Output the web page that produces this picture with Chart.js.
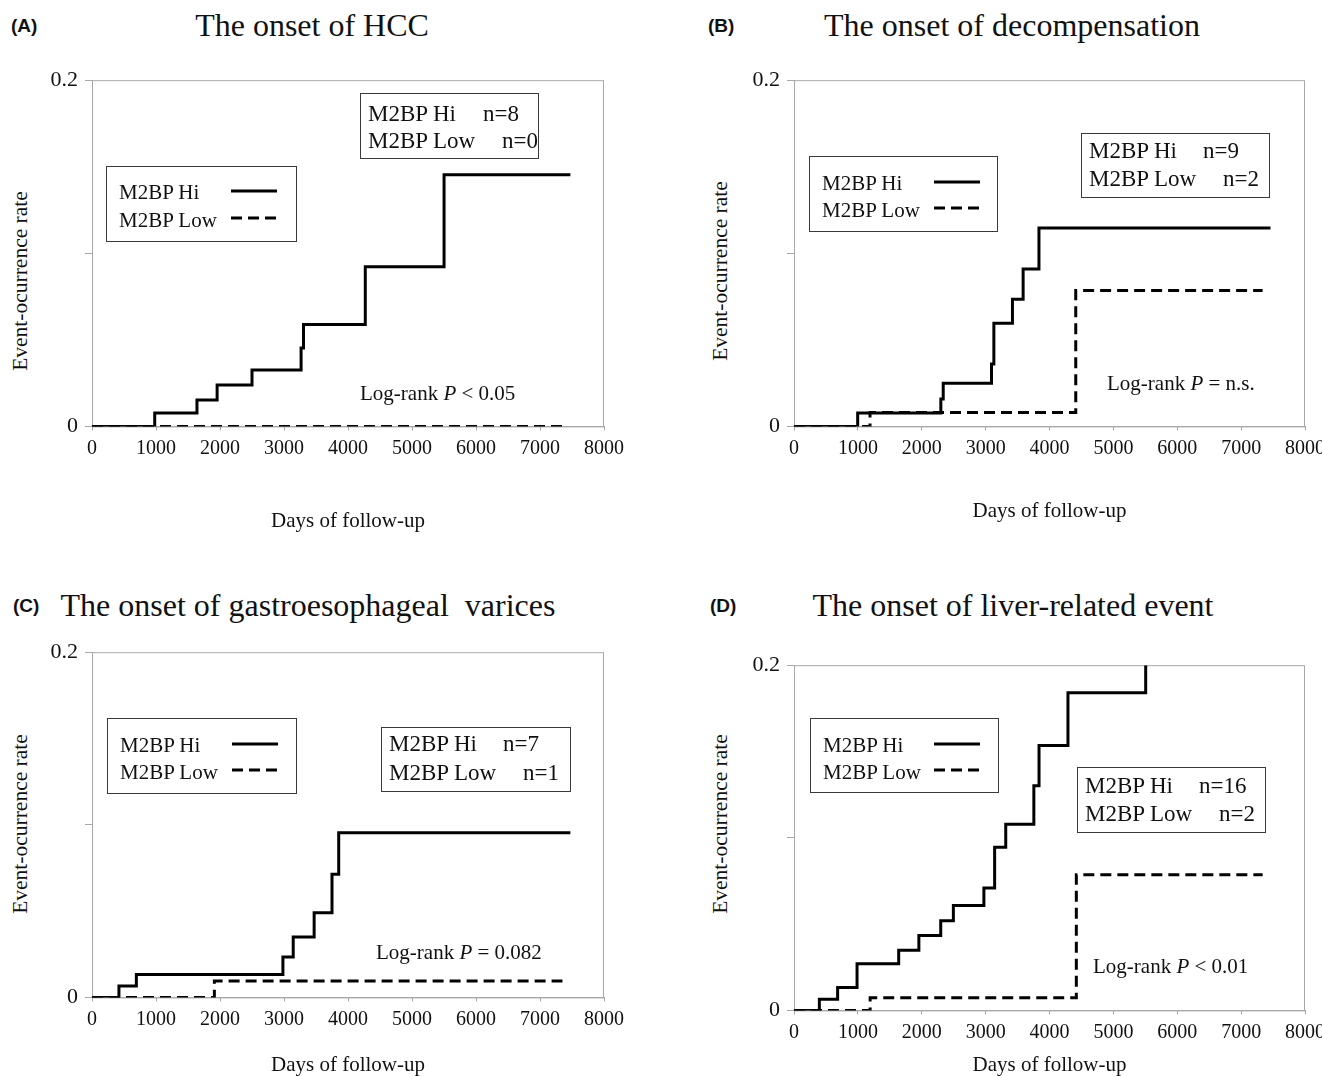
<!DOCTYPE html>
<html lang="en">
<head>
<meta charset="utf-8">
<title>M2BP event-occurrence curves</title>
<script src="https://cdn.jsdelivr.net/npm/chart.js@4.4.1/dist/chart.umd.min.js"></script>
<style>
  html, body { margin: 0; padding: 0; background: #fff; overflow: hidden; }
  body { width: 1322px; height: 1076px; position: relative; font-family: "Liberation Serif", "Times New Roman", serif; color: #111; }
  canvas { position: absolute; }
  .txt { position: absolute; white-space: pre; line-height: 1; transform: translateY(-50%); }
  .mid { transform: translate(-50%, -50%); }
  .tag { font-family: "Liberation Sans", Arial, sans-serif; font-weight: bold; font-size: 19px; }
  .ylab { position: absolute; white-space: nowrap; line-height: 1; font-size: 21.5px; transform: translate(-50%, -50%) rotate(-90deg); }
  .box { position: absolute; border: 1.5px solid #3a3a3a; box-sizing: border-box; }
  svg.key { position: absolute; overflow: visible; }
</style>
</head>
<body>
<script>
// --- DATOS (días de seguimiento / tasa acumulada de eventos) ---
const xTicks = [0, 1000, 2000, 3000, 4000, 5000, 6000, 7000, 8000];
const yTickLabels = ['0', '0.2'];

// (A) HCC
const daysHiA = [0, 980, 1640, 1955, 2500, 3267, 3305, 4270, 5501, 7475];
const rateHiA = [0, 0.0077, 0.0152, 0.0239, 0.0326, 0.0453, 0.0588, 0.0922, 0.1454, 0.1454];
const daysLowA = [0, 7350];
const rateLowA = [0, 0];

// (B) descompensación
const daysHiB = [0, 997, 2299, 2336, 3092, 3129, 3420, 3587, 3835, 7460];
const rateHiB = [0, 0.0077, 0.0158, 0.0249, 0.0361, 0.0596, 0.0735, 0.0910, 0.1146, 0.1146];
const daysLowB = [0, 1190, 4411, 7336];
const rateLowB = [0, 0.0081, 0.0785, 0.0785];

// (C) várices gastroesofágicas
const daysHiC = [0, 421, 693, 2983, 3144, 3471, 3750, 3855, 7475];
const rateHiC = [0, 0.0066, 0.0133, 0.0234, 0.0350, 0.0491, 0.0714, 0.0954, 0.0954];
const daysLowC = [0, 1912, 7351];
const rateLowC = [0, 0.0095, 0.0095];

// (D) evento hepático
const daysHiD = [0, 397, 683, 987, 1639, 1955, 2297, 2495, 2973, 3141, 3315, 3755, 3836, 4289, 5506];
const rateHiD = [0, 0.0064, 0.0132, 0.0271, 0.0348, 0.0434, 0.0519, 0.0608, 0.0709, 0.0945, 0.1078, 0.1301, 0.1535, 0.1841, 0.2];
const daysLowD = [0, 1192, 4420, 7337];
const rateLowD = [0, 0.0074, 0.0786, 0.0786];

const panelTags = ['(A)', '(B)', '(C)', '(D)'];
const panelTitles = ['The onset of HCC', 'The onset of decompensation', 'The onset of gastroesophageal  varices', 'The onset of liver-related event'];
const countsHi = ['n=8', 'n=9', 'n=7', 'n=16'];
const countsLow = ['n=0', 'n=2', 'n=1', 'n=2'];
const logRankTexts = ['Log-rank <i>P</i> &lt; 0.05', 'Log-rank <i>P</i> = n.s.', 'Log-rank <i>P</i> = 0.082', 'Log-rank <i>P</i> &lt; 0.01'];

// --- POSICIONES DE CADA PANEL ---
const panels = [
    { hi: [daysHiA, rateHiA], low: [daysLowA, rateLowA],
      area: { left: 92, top: 80, right: 604, bottom: 426 }, xTitleY: 521,
      tag: [11, 25], title: [312, 25], ylab: [21, 281],
      legend: [106, 166, 297, 242], legendRows: [192, 220], keyX: [231, 277],
      note: [360, 93, 539, 159], noteRows: [113, 140], noteN: [483, 502],
      logRank: [360, 393] },
    { hi: [daysHiB, rateHiB], low: [daysLowB, rateLowB],
      area: { left: 794, top: 80, right: 1305, bottom: 426 }, xTitleY: 511,
      tag: [708, 25], title: [1012, 25], ylab: [721, 271],
      legend: [809, 156, 998, 232], legendRows: [183, 210], keyX: [934, 980],
      note: [1081, 133, 1270, 198], noteRows: [150, 178], noteN: [1203, 1223],
      logRank: [1107, 383] },
    { hi: [daysHiC, rateHiC], low: [daysLowC, rateLowC],
      area: { left: 92, top: 652, right: 604, bottom: 997 }, xTitleY: 1065,
      tag: [13, 605], title: [308, 605], ylab: [21, 824],
      legend: [107, 718, 297, 794], legendRows: [745, 772], keyX: [232, 278],
      note: [381, 727, 571, 792], noteRows: [743, 772], noteN: [503, 523],
      logRank: [376, 952] },
    { hi: [daysHiD, rateHiD], low: [daysLowD, rateLowD],
      area: { left: 794, top: 665, right: 1305, bottom: 1010 }, xTitleY: 1065,
      tag: [710, 605], title: [1013, 605], ylab: [721, 824],
      legend: [810, 718, 999, 793], legendRows: [745, 772], keyX: [934, 980],
      note: [1077, 767, 1266, 833], noteRows: [785, 813], noteN: [1199, 1219],
      logRank: [1093, 966] }
];

const Y_SCALE_W = 52;   // ancho fijo del eje Y
const PAD_TOP = 20;
const PAD_RIGHT = 30;
const TITLE_FONT = 21;

// --- AYUDANTES DE TEXTO ---
function addText(html, x, y, size, cls) {
    const d = document.createElement('div');
    d.className = 'txt' + (cls ? ' ' + cls : '');
    d.style.left = x + 'px';
    d.style.top = y + 'px';
    if (size) d.style.fontSize = size + 'px';
    d.innerHTML = html;
    document.body.appendChild(d);
    return d;
}

function addBox(b) {
    const d = document.createElement('div');
    d.className = 'box';
    d.style.left = b[0] + 'px';
    d.style.top = b[1] + 'px';
    d.style.width = (b[2] - b[0]) + 'px';
    d.style.height = (b[3] - b[1]) + 'px';
    document.body.appendChild(d);
}

function addKey(x1, x2, y, dashed) {
    const ns = 'http://www.w3.org/2000/svg';
    const svg = document.createElementNS(ns, 'svg');
    svg.setAttribute('class', 'key');
    svg.setAttribute('width', x2 - x1);
    svg.setAttribute('height', 4);
    svg.style.left = x1 + 'px';
    svg.style.top = (y - 2) + 'px';
    const line = document.createElementNS(ns, 'line');
    line.setAttribute('x1', 0);
    line.setAttribute('x2', x2 - x1);
    line.setAttribute('y1', 2);
    line.setAttribute('y2', 2);
    line.setAttribute('stroke', '#000');
    line.setAttribute('stroke-width', 3);
    if (dashed) line.setAttribute('stroke-dasharray', '11 6');
    svg.appendChild(line);
    document.body.appendChild(svg);
}

// Marco gris alrededor del área del gráfico
const frameBox = {
    id: 'frameBox',
    beforeDatasetsDraw(chart) {
        const a = chart.chartArea;
        const ctx = chart.ctx;
        ctx.save();
        ctx.strokeStyle = '#a8a8a8';
        ctx.lineWidth = 1;
        ctx.strokeRect(a.left + 0.5, a.top + 0.5, a.right - a.left - 1, a.bottom - a.top);
        ctx.restore();
    }
};

function toPoints(days, rates) {
    return days.map((d, i) => ({ x: d, y: rates[i] }));
}

// --- CONSTRUCCIÓN DE CADA PANEL ---
function buildPanel(p, i) {
    const xScaleH = (p.xTitleY - p.area.bottom) + TITLE_FONT * 0.6;
    const cx = p.area.left - Y_SCALE_W;
    const cy = p.area.top - PAD_TOP;
    const canvas = document.createElement('canvas');
    canvas.width = p.area.right - cx + PAD_RIGHT;
    canvas.height = Math.ceil(p.area.bottom - cy + xScaleH + 2);
    canvas.style.left = cx + 'px';
    canvas.style.top = cy + 'px';
    document.body.appendChild(canvas);

    const serif = { family: '"Liberation Serif", "Times New Roman", serif', size: 20 };
    const serifY = { family: serif.family, size: 22 };
    const serifTitle = { family: serif.family, size: TITLE_FONT };

    new Chart(canvas.getContext('2d'), {
        type: 'line',
        data: {
            datasets: [{
                label: 'M2BP Hi',
                data: toPoints(p.hi[0], p.hi[1]),
                borderColor: '#000',
                borderWidth: 3,
                pointRadius: 0,
                stepped: true,
                fill: false
            }, {
                label: 'M2BP Low',
                data: toPoints(p.low[0], p.low[1]),
                borderColor: '#000',
                borderWidth: 3,
                borderDash: [11, 6],
                pointRadius: 0,
                stepped: true,
                fill: false
            }]
        },
        options: {
            responsive: false,
            animation: false,
            events: [],
            layout: { padding: { left: 0, top: PAD_TOP, right: PAD_RIGHT, bottom: 2 } },
            plugins: { legend: { display: false }, tooltip: { enabled: false } },
            scales: {
                x: {
                    type: 'linear',
                    min: 0,
                    max: 8000,
                    afterBuildTicks: s => { s.ticks = xTicks.map(v => ({ value: v })); },
                    afterFit: s => { s.height = xScaleH; },
                    ticks: {
                        autoSkip: false,
                        maxRotation: 0,
                        padding: 6,
                        color: '#111',
                        font: serif,
                        callback: v => String(v)
                    },
                    grid: { drawOnChartArea: false, tickLength: 4, color: '#a8a8a8' },
                    border: { color: '#a8a8a8' },
                    title: { display: true, text: 'Days of follow-up', color: '#111', padding: 0, font: serifTitle }
                },
                y: {
                    type: 'linear',
                    min: 0,
                    max: 0.2,
                    afterBuildTicks: s => { s.ticks = [0, 0.1, 0.2].map(v => ({ value: v })); },
                    afterFit: s => { s.width = Y_SCALE_W; },
                    ticks: {
                        padding: 7,
                        color: '#111',
                        font: serifY,
                        callback: (v, idx) => idx === 0 ? yTickLabels[0] : (idx === 2 ? yTickLabels[1] : '')
                    },
                    grid: { drawOnChartArea: false, tickLength: 7, color: '#a8a8a8' },
                    border: { color: '#a8a8a8' }
                }
            }
        },
        plugins: [frameBox]
    });

    // Títulos y etiquetas
    addText(panelTags[i], p.tag[0], p.tag[1], null, 'tag');
    addText(panelTitles[i], p.title[0], p.title[1], 32, 'mid');
    const yl = document.createElement('div');
    yl.className = 'ylab';
    yl.style.left = p.ylab[0] + 'px';
    yl.style.top = p.ylab[1] + 'px';
    yl.textContent = 'Event-ocurrence rate';
    document.body.appendChild(yl);

    // Leyenda
    addBox(p.legend);
    addText('M2BP Hi', p.legend[0] + 13, p.legendRows[0], 21);
    addText('M2BP Low', p.legend[0] + 13, p.legendRows[1], 21);
    addKey(p.keyX[0], p.keyX[1], p.legendRows[0] - 1, false);
    addKey(p.keyX[0], p.keyX[1], p.legendRows[1] - 2, true);

    // Recuento de eventos
    addBox(p.note);
    addText('M2BP Hi', p.note[0] + 8, p.noteRows[0], 23);
    addText(countsHi[i], p.noteN[0], p.noteRows[0], 23);
    addText('M2BP Low', p.note[0] + 8, p.noteRows[1], 23);
    addText(countsLow[i], p.noteN[1], p.noteRows[1], 23);

    addText(logRankTexts[i], p.logRank[0], p.logRank[1], 21);
}

// --- INICIALIZACIÓN ---
panels.forEach(buildPanel);
</script>
</body>
</html>
